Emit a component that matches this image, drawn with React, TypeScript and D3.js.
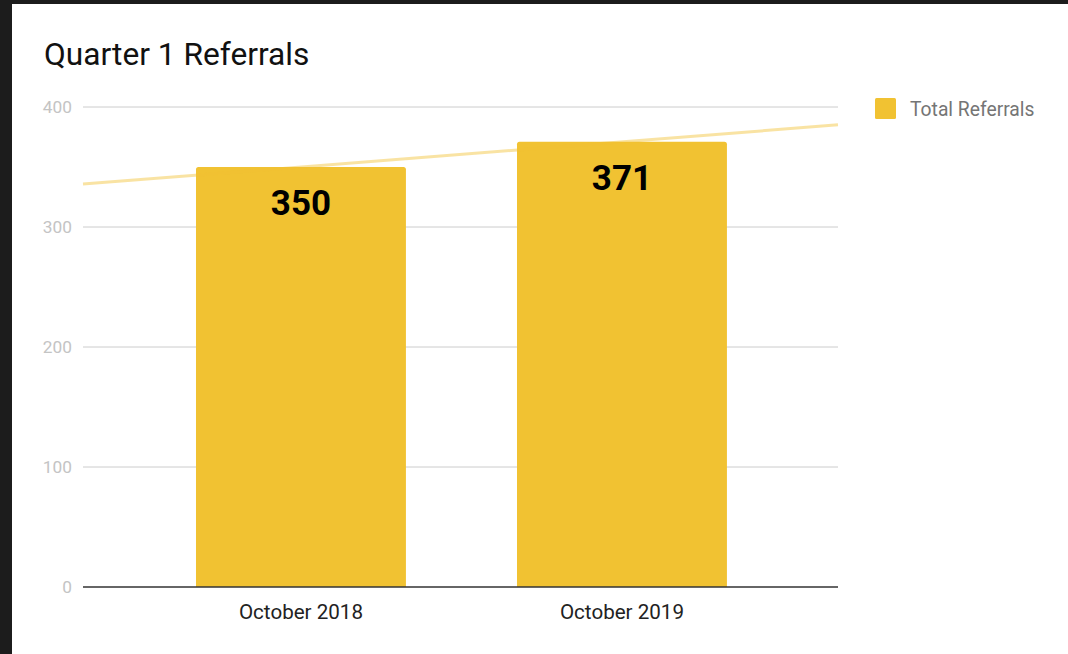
import React from "react";
import * as d3 from "d3";

const categories = ["October 2018", "October 2019"];
const values = [350, 371];
const yTicks = [0, 100, 200, 300, 400];
const seriesName = "Total Referrals";
const title = "Quarter 1 Referrals";

const W = 1068;
const H = 654;
const FONT = "Roboto, 'Noto Sans', sans-serif";

export default function App() {
  const x = d3.scaleLinear().domain([-0.679, 1.673]).range([83, 838]);
  const y = d3.scaleLinear().domain([0, 400]).range([587, 107]);
  const barW = x(0.654) - x(0);

  // linear least-squares trendline through the data
  const xs = values.map((_, i) => i);
  const mx = d3.mean(xs)!;
  const my = d3.mean(values)!;
  const slope =
    d3.sum(xs.map((xi, i) => (xi - mx) * (values[i] - my))) /
    d3.sum(xs.map((xi) => (xi - mx) ** 2));
  const icpt = my - slope * mx;
  const [d0, d1] = x.domain();
  const trend = d3.line<number>()((
    [d0, d1].map((t) => [x(t), y(icpt + slope * t)]) as any
  ) as any);

  const barPath = (cx: number, v: number) => {
    const x0 = cx - barW / 2;
    const x1 = cx + barW / 2;
    const top = y(v);
    const bot = y(0);
    const r = 2.5;
    return `M${x0},${bot}V${top + r}Q${x0},${top} ${x0 + r},${top}H${x1 - r}Q${x1},${top} ${x1},${top + r}V${bot}Z`;
  };

  return (
    <svg
      width={W}
      height={H}
      style={{ position: "absolute", left: 0, top: 0, display: "block" }}
      fontFamily={FONT}
    >
      <rect x={0} y={0} width={W} height={H} fill="#1c1c1c" />
      <rect x={12} y={4} width={W - 12} height={H - 4} fill="#ffffff" />
      <text x={44} y={65} fontSize={31.7} fill="#111">
        {title}
      </text>
      {yTicks.map((t) => (
        <g key={t}>
          {t !== 0 && (
            <line x1={83} x2={838} y1={y(t)} y2={y(t)} stroke="#cccccc" strokeWidth={1} />
          )}
          <text
            x={72}
            y={y(t) + 6}
            textAnchor="end"
            fontSize={17.3}
            fill="#c4c4c4"
          >
            {t}
          </text>
        </g>
      ))}
      {values.map((v, i) => (
        <path key={i} d={barPath(x(i), v)} fill="#f1c232" />
      ))}
      <path d={trend!} stroke="#f1c232" strokeOpacity={0.45} strokeWidth={3} fill="none" />
      <line x1={83} x2={838} y1={y(0)} y2={y(0)} stroke="#333" strokeWidth={1.3} />
      {values.map((v, i) => (
        <text
          key={i}
          x={x(i)}
          y={y(v) + 48}
          textAnchor="middle"
          fontSize={35}
          fontWeight="bold"
          fill="#000"
        >
          {v}
        </text>
      ))}
      {categories.map((c, i) => (
        <text key={c} x={x(i)} y={619} textAnchor="middle" fontSize={20.6} fill="#222">
          {c}
        </text>
      ))}
      <rect x={875} y={98} width={21} height={21} rx={1.5} fill="#f1c232" />
      <text x={910} y={115.5} fontSize={19.3} fill="#757575">
        {seriesName}
      </text>
    </svg>
  );
}
